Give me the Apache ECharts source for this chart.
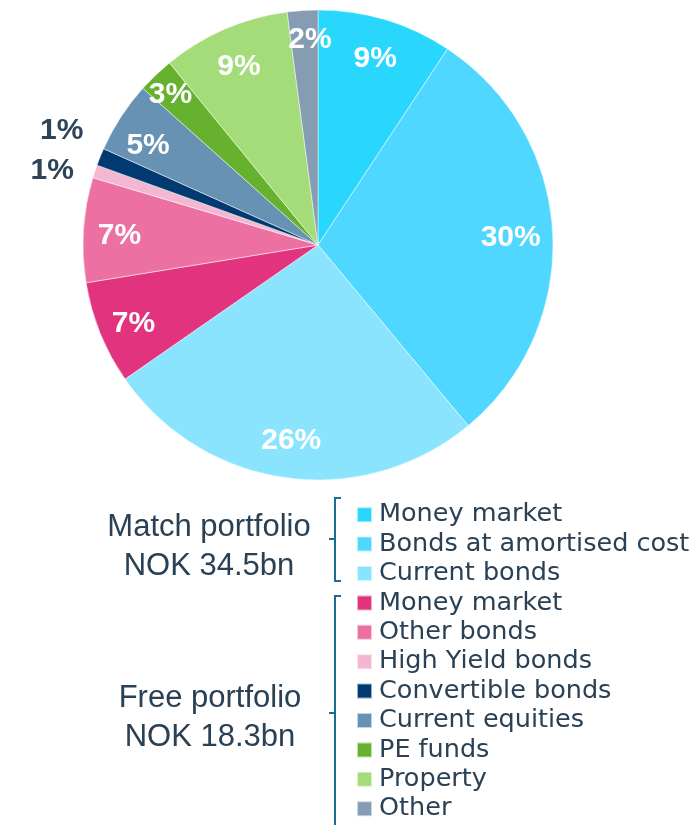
<!DOCTYPE html>
<html>
<head>
<meta charset="utf-8">
<script src="https://cdn.jsdelivr.net/npm/echarts@6/dist/echarts.min.js"></script>
<style>
  html, body { margin: 0; padding: 0; background: #fff; }
  #chart { width: 698px; height: 825px; }
</style>
</head>
<body>
<div id="chart"></div>
<script>
// slices, clockwise from 12 o'clock (share of total, %)
const categories = ['Money market', 'Bonds at amortised cost', 'Current bonds',
  'Money market', 'Other bonds', 'High Yield bonds', 'Convertible bonds',
  'Current equities', 'PE funds', 'Property', 'Other'];
const shares = [9.3, 29.7, 26.4, 7.1, 7.2, 0.9, 1.2, 4.9, 2.5, 8.8, 2.1];
const colors = ['#29d7fd', '#50d7ff', '#8ae4fd', '#e2347e', '#ec71a2', '#f4b7d1',
  '#003a70', '#6792b4', '#66b22f', '#a3dc78', '#869cb2'];
const groupNames = ['Match portfolio', 'Free portfolio'];
const groupTotals = ['NOK 34.5bn', 'NOK 18.3bn'];

const TEXT = '#2a4054';
const BRACKET = '#1c6e91';
const WIDE = '"DejaVu Sans", "Liberation Sans", Arial, sans-serif';
const ARIAL = '"Liberation Sans", Arial, sans-serif';

// unique keys so the two "Money market" slices stay separate in the legend
const keys = categories.map((c, i) => i + ':' + c);
const isSmall = v => v < 1.5;
const pct = p => Math.round(p.value) + '%';

// hand nudges for a few labels, as in the source slide
const innerNudge = { 1: [-6, 4], 2: [0, -1], 7: [-3, 9], 8: [-10, -6], 10: [5, -7] };
const outerNudge = { 5: [3, 14], 6: [6, -8] };
const nudge = (table, base) => p => {
  const d = table[p.dataIndex] || [0, base];
  return { dx: d[0], dy: d[1] };
};

const chart = echarts.init(document.getElementById('chart'));

const pieBase = {
  type: 'pie',
  center: [318, 245],
  startAngle: 90,
  animation: false
};

const option = {
  legend: {
    orient: 'vertical',
    left: 356,
    top: 500,
    padding: 0,
    itemGap: 0,
    itemWidth: 15,
    itemHeight: 15,
    icon: 'rect',
    selectedMode: false,
    data: keys,
    formatter: name => name.slice(name.indexOf(':') + 1),
    textStyle: {
      fontFamily: WIDE,
      fontSize: 25.5,
      lineHeight: 29.4,
      color: TEXT,
      padding: [0, 0, 0, 2]
    }
  },
  graphic: [
    {
      type: 'text', x: 209, y: 547,
      style: {
        text: groupNames[0] + '\n' + groupTotals[0],
        font: '31px ' + ARIAL, fill: TEXT,
        align: 'center', verticalAlign: 'middle', lineHeight: 39
      }
    },
    {
      type: 'text', x: 210, y: 718,
      style: {
        text: groupNames[1] + '\n' + groupTotals[1],
        font: '31px ' + ARIAL, fill: TEXT,
        align: 'center', verticalAlign: 'middle', lineHeight: 39
      }
    },
    { type: 'polyline', shape: { points: [[341, 498], [335, 498], [335, 581], [341, 581]] },
      style: { stroke: BRACKET, lineWidth: 2, fill: null } },
    { type: 'line', shape: { x1: 329, y1: 539, x2: 335, y2: 539 },
      style: { stroke: BRACKET, lineWidth: 2 } },
    { type: 'polyline', shape: { points: [[341, 596], [335, 596], [335, 830]] },
      style: { stroke: BRACKET, lineWidth: 2, fill: null } },
    { type: 'line', shape: { x1: 329, y1: 713, x2: 335, y2: 713 },
      style: { stroke: BRACKET, lineWidth: 2 } }
  ],
  series: [
    Object.assign({}, pieBase, {
      name: 'slices',
      radius: 235,
      label: { show: false },
      labelLine: { show: false },
      emphasis: { disabled: true },
      itemStyle: { borderColor: 'rgba(255,255,255,0.6)', borderWidth: 0.8 },
      data: shares.map((v, i) => ({
        name: keys[i], value: v, itemStyle: { color: colors[i] }
      }))
    }),
    // inner percentage labels
    Object.assign({}, pieBase, {
      name: 'inner labels',
      radius: [160, 232],
      silent: true,
      emphasis: { disabled: true },
      itemStyle: { color: 'rgba(0,0,0,0)' },
      labelLine: { show: false },
      label: {
        position: 'inside',
        formatter: pct,
        fontFamily: ARIAL, fontWeight: 'bold', fontSize: 30, color: '#fff'
      },
      labelLayout: nudge(innerNudge, 4),
      data: shares.map((v, i) => ({
        name: keys[i], value: v, label: { show: !isSmall(v) }
      }))
    }),
    // outside labels for the thin slices
    Object.assign({}, pieBase, {
      name: 'outer labels',
      radius: [255, 305],
      silent: true,
      emphasis: { disabled: true },
      itemStyle: { color: 'rgba(0,0,0,0)' },
      labelLine: { show: false },
      label: {
        position: 'inside',
        formatter: pct,
        fontFamily: ARIAL, fontWeight: 'bold', fontSize: 30, color: '#2d4357'
      },
      labelLayout: nudge(outerNudge, 0),
      data: shares.map((v, i) => ({
        name: keys[i], value: v, label: { show: isSmall(v) }
      }))
    })
  ]
};

chart.setOption(option);
</script>
</body>
</html>
